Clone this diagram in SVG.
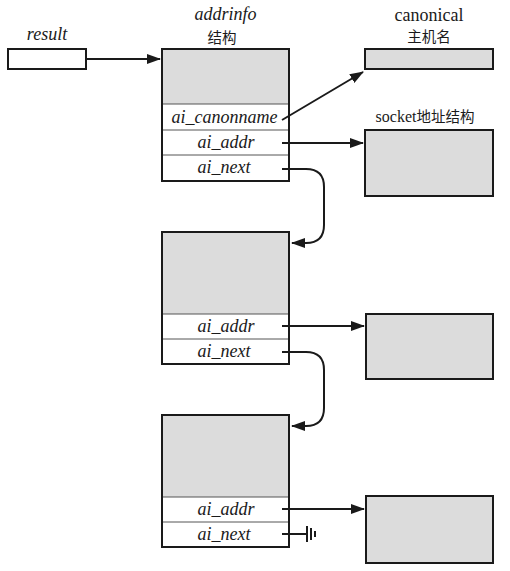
<svg xmlns="http://www.w3.org/2000/svg" width="510" height="571" viewBox="0 0 510 571">
<style>
.box{fill:#dcdcdc;stroke:#1a1a1a;stroke-width:2}
.wbox{fill:#ffffff;stroke:#1a1a1a;stroke-width:2}
.row{stroke:#555;stroke-width:1;fill:none}
.fld{font-style:italic;font-size:18px;fill:#1a1a1a;text-anchor:middle}
.lbl{font-size:18px;fill:#1a1a1a;text-anchor:middle}
.cn{font-size:14.5px;fill:#1a1a1a;text-anchor:middle}
.con{stroke:#1a1a1a;stroke-width:2;fill:none}
</style>
<defs>
<marker id="ah" markerWidth="14" markerHeight="10" refX="13" refY="5" orient="auto" markerUnits="userSpaceOnUse">
<path d="M0,0 L14,5 L0,10 Z" fill="#1a1a1a"/>
</marker>
</defs>
<rect width="510" height="571" fill="#ffffff"/>

<g id="result">
<text class="fld" font-family="Liberation Serif, DejaVu Serif, serif" x="47" y="40" font-size="17">result</text>
<rect class="wbox" x="8" y="49" width="78" height="20"/>
</g>

<g id="addrinfo1">
<text class="fld" font-family="Liberation Serif, DejaVu Serif, serif" x="225.5" y="20">addrinfo</text>
<text class="cn" font-family="Noto Sans CJK SC, Noto Sans CJK JP, sans-serif" x="222" y="43">结构</text>
<rect class="box" x="162" y="49" width="127" height="132"/>
<rect x="163" y="104" width="125" height="76" fill="#ffffff"/>
<line class="row" x1="163" y1="104" x2="288" y2="104"/>
<line class="row" x1="163" y1="130" x2="288" y2="130"/>
<line class="row" x1="163" y1="155" x2="288" y2="155"/>
<rect x="162" y="49" width="127" height="132" fill="none" stroke="#1a1a1a" stroke-width="2"/>
<g font-family="Liberation Serif, DejaVu Serif, serif">
<text class="fld" x="224.5" y="123">ai_canonname</text>
<text class="fld" x="226" y="148">ai_addr</text>
<text class="fld" x="224" y="173">ai_next</text>
</g>
</g>

<g id="canonical">
<text class="lbl" font-family="Liberation Serif, DejaVu Serif, serif" x="429" y="21">canonical</text>
<text class="cn" font-family="Noto Sans CJK SC, Noto Sans CJK JP, sans-serif" x="429" y="42">主机名</text>
<rect class="box" x="365" y="49" width="128" height="20"/>
</g>

<g id="sockaddr1">
<text class="cn" font-family="Noto Sans CJK SC, Noto Sans CJK JP, sans-serif" x="425" y="122"><tspan font-family="Liberation Serif, DejaVu Serif, serif" font-size="16">socket</tspan>地址结构</text>
<rect class="box" x="365" y="130" width="128" height="66"/>
</g>

<g id="addrinfo2">
<rect class="box" x="162" y="232" width="127" height="132"/>
<rect x="163" y="314" width="125" height="49" fill="#ffffff"/>
<line class="row" x1="163" y1="314" x2="288" y2="314"/>
<line class="row" x1="163" y1="339" x2="288" y2="339"/>
<rect x="162" y="232" width="127" height="132" fill="none" stroke="#1a1a1a" stroke-width="2"/>
<g font-family="Liberation Serif, DejaVu Serif, serif">
<text class="fld" x="226" y="332">ai_addr</text>
<text class="fld" x="224" y="357">ai_next</text>
</g>
</g>

<g id="sockaddr2">
<rect class="box" x="366" y="314" width="127" height="65"/>
</g>

<g id="addrinfo3">
<rect class="box" x="162" y="415" width="127" height="132"/>
<rect x="163" y="497" width="125" height="49" fill="#ffffff"/>
<line class="row" x1="163" y1="497" x2="288" y2="497"/>
<line class="row" x1="163" y1="522" x2="288" y2="522"/>
<rect x="162" y="415" width="127" height="132" fill="none" stroke="#1a1a1a" stroke-width="2"/>
<g font-family="Liberation Serif, DejaVu Serif, serif">
<text class="fld" x="226" y="515">ai_addr</text>
<text class="fld" x="224" y="540">ai_next</text>
</g>
</g>

<g id="sockaddr3">
<rect class="box" x="366" y="496" width="127" height="67"/>
</g>

<g id="connectors">
<line class="con" x1="86" y1="59" x2="160" y2="59" marker-end="url(#ah)"/>
<line class="con" x1="282" y1="120" x2="363" y2="72" marker-end="url(#ah)"/>
<line class="con" x1="282" y1="143" x2="363" y2="143" marker-end="url(#ah)"/>
<path class="con" d="M282,169 H306 Q324,169 324,187 V225 Q324,243 306,243 H292" marker-end="url(#ah)"/>
<line class="con" x1="282" y1="326" x2="364" y2="326" marker-end="url(#ah)"/>
<path class="con" d="M282,352 H306 Q324,352 324,370 V408 Q324,426 306,426 H292" marker-end="url(#ah)"/>
<line class="con" x1="282" y1="509" x2="364" y2="509" marker-end="url(#ah)"/>
<line class="con" x1="282" y1="534" x2="307" y2="534"/>
<line class="con" x1="307" y1="526" x2="307" y2="542"/>
<line class="con" x1="311" y1="528" x2="311" y2="540"/>
<line class="con" x1="315" y1="531" x2="315" y2="537"/>
</g>
</svg>
